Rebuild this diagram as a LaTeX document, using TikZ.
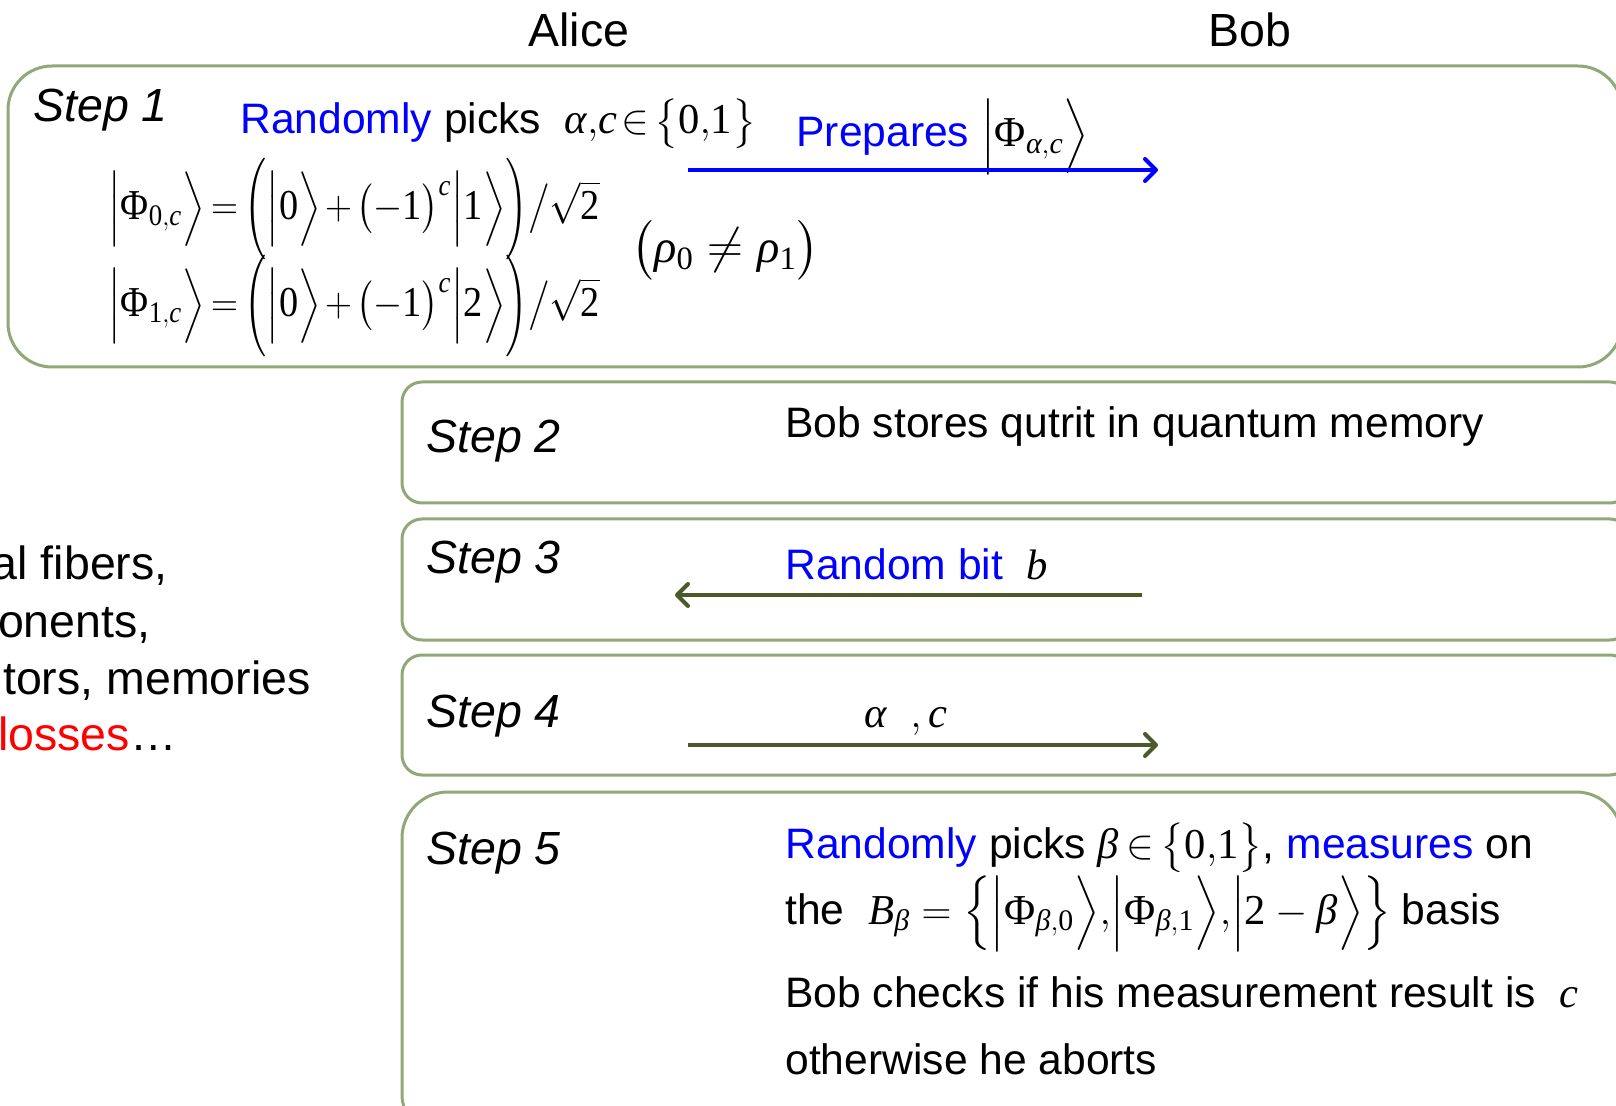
\documentclass[tikz,border=0pt]{standalone}
\usepackage{amsmath}
\usepackage{fontspec}
\setmainfont{Liberation Sans}
\newfontfamily\mserif{Liberation Serif}[NFSSFamily=mserif]
\DeclareSymbolFont{tletters}{TU}{mserif}{m}{it}
\DeclareSymbolFont{troman}{TU}{mserif}{m}{n}
\AtBeginDocument{%
 \Umathcode`c="7 \symtletters `c\relax
 \Umathcode`b="7 \symtletters `b\relax
 \Umathcode`B="7 \symtletters `B\relax
 \Umathcode`0="0 \symtroman `0\relax
 \Umathcode`1="0 \symtroman `1\relax
 \Umathcode`2="0 \symtroman `2\relax
 \Umathchardef\alpha="0 \symtletters "03B1\relax
 \Umathchardef\beta="0 \symtletters "03B2\relax
 \Umathchardef\rho="0 \symtletters "03C1\relax
 \Umathchardef\Phi="0 \symtroman "03A6\relax
}
\newcommand{\Lpar}{\mathopen{\raisebox{-1.9pt}{\scalebox{1}[1.36]{$\Big($}}}}
\newcommand{\Rpar}{\mathclose{\raisebox{-1.9pt}{\scalebox{1}[1.36]{$\Big)$}}}}
\usetikzlibrary{arrows.meta}
\definecolor{boxgreen}{HTML}{8FA876}
\definecolor{darkolive}{HTML}{4B5A28}
\definecolor{pblue}{HTML}{0000FF}
\definecolor{pred}{HTML}{FF0000}
\tikzset{
  stepbox/.style={draw=boxgreen, line width=1.5pt},
  steplabel/.style={anchor=base west, inner sep=0pt, font=\fontsize{23.25}{28}\selectfont\itshape},
  body/.style={anchor=base west, inner sep=0pt, font=\fontsize{21.3}{26}\selectfont},
  bigtext/.style={inner sep=0pt, font=\fontsize{23.25}{28}\selectfont},
  eqn/.style={anchor=west, inner sep=0pt, font=\fontsize{21.3}{26}\selectfont},
  bluearrow/.style={draw=pblue, line width=2pt, -{Straight Barb[length=5.5pt,width=11pt,round]}},
  olivearrow/.style={draw=darkolive, line width=2pt, -{Straight Barb[length=5.5pt,width=11pt,round]}},
}
\begin{document}
\begin{tikzpicture}[x=0.5pt,y=-0.5pt]
\useasboundingbox (0,0) rectangle (1616,1106);
% headers
\node[bigtext, anchor=base] (alice) at (579,47) {Alice};
\node[bigtext, anchor=base] (bob) at (1250,47) {Bob};
% boxes
\draw[stepbox, rounded corners=22pt] (8,66) rectangle (1622,367);
\draw[stepbox, rounded corners=10pt] (402,382) rectangle (1630,503);
\draw[stepbox, rounded corners=10pt] (402,519) rectangle (1630,640);
\draw[stepbox, rounded corners=10pt] (402,655) rectangle (1630,775);
\draw[stepbox, rounded corners=23pt] (402,792) rectangle (1622,1140);
% step 1
\node[steplabel] (s1) at (33,122) {Step 1};
\node[body] (pick1) at (240,134) {\textcolor{pblue}{Randomly} picks \ $\thickmuskip=2mu \alpha{,}c\in\bigl\{0{,}1\bigr\}$};
\node[body] (prep) at (796,147) {\textcolor{pblue}{Prepares} $\Big|\Phi_{\alpha,c}\Big\rangle$};
\node[eqn] (eq1) at (108,209) {\scalebox{0.9}[1]{$\thickmuskip=3mu\medmuskip=2mu\Big|\Phi_{0,c}\Big\rangle=\Lpar\Big|0\Big\rangle+\bigl(-1\bigr)^{c}\Big|1\Big\rangle\Rpar\big/\sqrt{2}$}};
\node[eqn] (eq2) at (108,306) {\scalebox{0.9}[1]{$\thickmuskip=3mu\medmuskip=2mu\Big|\Phi_{1,c}\Big\rangle=\Lpar\Big|0\Big\rangle+\bigl(-1\bigr)^{c}\Big|2\Big\rangle\Rpar\big/\sqrt{2}$}};
\node[eqn, font=\fontsize{23.25}{28}\selectfont] (rho) at (631,250) {$\bigl(\rho_0\neq\rho_1\bigr)$};
\coordinate (a1s) at (688,170);
\coordinate (a1e) at (1158,170);
\draw[bluearrow] (a1s) -- (a1e);
% step 2
\node[steplabel] (s2) at (426,453) {Step 2};
\node[body] (store) at (785,438) {Bob stores qutrit in quantum memory};
% step 3
\node[steplabel] (s3) at (426,574) {Step 3};
\node[body] (rb) at (785,579) {\textcolor{pblue}{Random bit} \ $b$};
\coordinate (a3s) at (1142,595);
\coordinate (a3e) at (675,595);
\draw[olivearrow] (a3s) -- (a3e);
% step 4
\node[steplabel] (s4) at (426,727) {Step 4};
\node[body] (ac) at (864,727) {$\alpha\ \ ,c$};
\coordinate (a4s) at (688,745);
\coordinate (a4e) at (1158,745);
\draw[olivearrow] (a4s) -- (a4e);
% step 5
\node[steplabel] (s5) at (426,864) {Step 5};
\node[body] (l1) at (785,858) {\textcolor{pblue}{Randomly} picks $\thickmuskip=3mu\beta\in\bigl\{0{,}1\bigr\}$, \textcolor{pblue}{measures} on};
\node[body] (l2) at (785,924) {the \ $B_\beta=\Bigl\{\Big|\Phi_{\beta,0}\Big\rangle{,}\Big|\Phi_{\beta,1}\Big\rangle{,}\Big|2-\beta\Big\rangle\Bigr\}$\hspace{0.25em}basis};
\node[body] (l3) at (785,1007) {Bob checks if his measurement result is \ $c$};
\node[body] (l4) at (785,1074) {otherwise he aborts};
% left text (clipped)
\node[bigtext, anchor=base east] (t1) at (168,579) {al fibers,};
\node[bigtext, anchor=base east] (t2) at (151,637) {onents,};
\node[bigtext, anchor=base east] (t3) at (311,694) {tors, memories};
\node[bigtext, anchor=base east] (t4) at (177,750) {\textcolor{pred}{losses}\ldots};
\end{tikzpicture}
\end{document}
